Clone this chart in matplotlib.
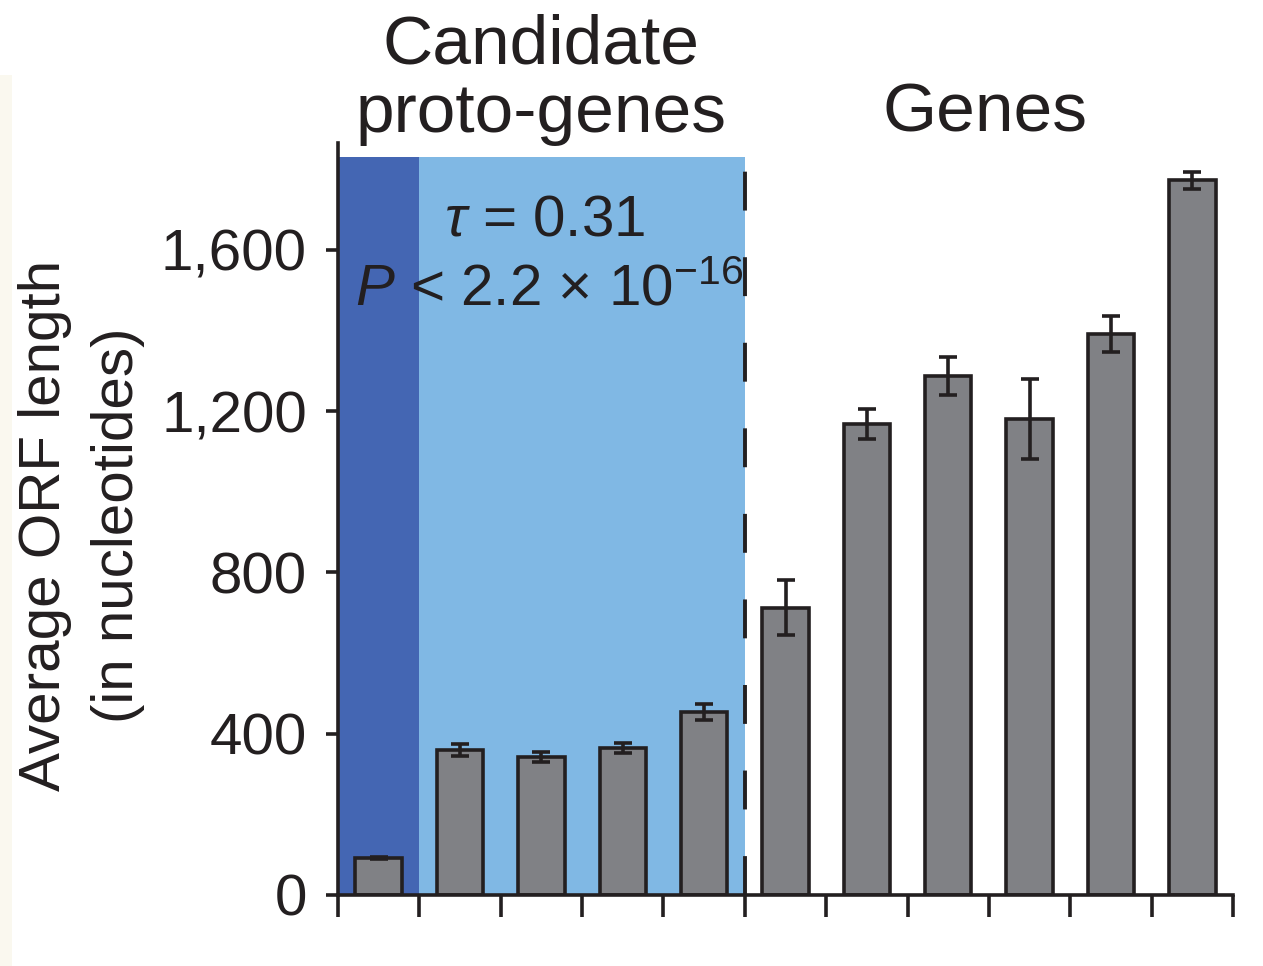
import matplotlib
matplotlib.use("Agg")
import matplotlib.pyplot as plt
from matplotlib.ticker import StrMethodFormatter
from matplotlib.transforms import blended_transform_factory
import numpy as np

plt.rcParams['font.family'] = ['Liberation Sans', 'DejaVu Sans']
plt.rcParams['mathtext.fontset'] = 'custom'
plt.rcParams['mathtext.rm'] = 'Liberation Sans'
plt.rcParams['mathtext.it'] = 'Liberation Sans:italic'

# data
proto_vals = [92, 359, 342, 365, 453]
proto_err = [3, 15, 12, 12, 20]
gene_vals = [713, 1169, 1288, 1181, 1392, 1773]
gene_err = [67, 37, 47, 99, 45, 21]
y_ticks = [0, 400, 800, 1200, 1600]

values = proto_vals + gene_vals
errors = proto_err + gene_err
n = len(values)
xpos = np.arange(n) + 0.5
tc = '#231f20'
lw = 2.6

fig = plt.figure(figsize=(12.63, 9.66), dpi=100)
ax = fig.add_axes([338 / 1263, 1 - 895 / 966, 895 / 1263, 752 / 966])

ymax = 1865
ax.set_xlim(0, n)
ax.set_ylim(0, ymax)

# shaded backgrounds for candidate proto-genes
ax.axvspan(0, 1, ymin=0, ymax=1830 / ymax, color='#4466b3', lw=0, zorder=0)
ax.axvspan(1, len(proto_vals), ymin=0, ymax=1830 / ymax, color='#80b8e4', lw=0, zorder=0)

ax.bar(xpos, values, width=0.57, color='#808185', edgecolor=tc,
       linewidth=lw, zorder=2)
ax.errorbar(xpos, values, yerr=errors, fmt='none', ecolor=tc,
            elinewidth=lw, capsize=6.5, capthick=lw, zorder=3)

# dashed separator
ax.plot([len(proto_vals), len(proto_vals)], [0, ymax], color=tc,
        lw=2.8, dashes=(10, 12), zorder=4, clip_on=False)

ax.spines['top'].set_visible(False)
ax.spines['right'].set_visible(False)
for s in ('left', 'bottom'):
    ax.spines[s].set_linewidth(lw)
    ax.spines[s].set_color(tc)

ax.set_xticks(np.arange(n + 1))
ax.set_xticklabels([])
ax.tick_params(axis='x', direction='out', length=16, width=lw, color=tc)
ax.set_yticks(y_ticks)
ax.yaxis.set_major_formatter(StrMethodFormatter('{x:,.0f}'))
ax.tick_params(axis='y', direction='out', length=8.5, width=lw, color=tc,
               labelsize=42, pad=14, labelcolor=tc)

# group titles
blend = blended_transform_factory(ax.transData, fig.transFigure)
ax.text(2.5, 1 - 63 / 966, 'Candidate', transform=blend,
        ha='center', va='baseline', fontsize=50, color=tc)
ax.text(2.5, 1 - 132 / 966, 'proto-genes', transform=blend,
        ha='center', va='baseline', fontsize=50, color=tc)
ax.text(7.95, 1 - 132 / 966, 'Genes', transform=blend,
        ha='center', va='baseline', fontsize=50, color=tc)

# statistics annotation
ax.text(2.54, 1635, r'$\tau$ = 0.31', ha='center', va='baseline',
        fontsize=42, color=tc, zorder=5)
ax.text(2.6, 1461, '$P$ < 2.2 \u00d7 10$^{\u221216}$',
        ha='center', va='baseline', fontsize=42, color=tc, zorder=5)

# y label as two lines
fig.text(45 / 1263, 1 - 525 / 966, 'Average ORF length', rotation=90,
         ha='center', va='center', fontsize=42, color=tc)
fig.text(118 / 1263, 1 - 525 / 966, '(in nucleotides)', rotation=90,
         ha='center', va='center', fontsize=42, color=tc)

# faint edge strip from the source scan
fig.patches.append(plt.Rectangle((0, 0), 12 / 1263, 1 - 75 / 966,
                                 transform=fig.transFigure, color='#faf8ef',
                                 lw=0, zorder=-1))

fig.savefig('out.png', dpi=100)
